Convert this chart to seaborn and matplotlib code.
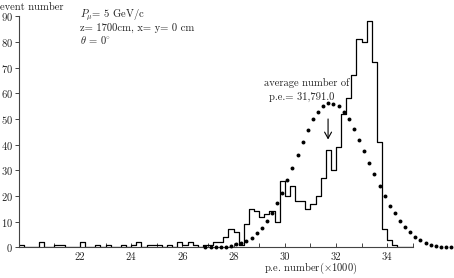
import numpy as np
import pandas as pd
import matplotlib
matplotlib.use("Agg")
import matplotlib.pyplot as plt
import matplotlib.transforms as mtransforms
import seaborn as sns

# ---------------- data ----------------
hist_bins = [19.6, 20.4, 21.0, 21.2, 22.0, 22.6, 23.0, 23.6, 24.0, 24.2,
             24.6, 24.8, 25.0, 25.4, 25.8, 26.0, 26.2, 26.4, 26.8, 27.0,
             27.2, 27.4, 27.6, 27.8, 28.0, 28.2, 28.4, 28.6, 28.8, 29.0,
             29.2, 29.4, 29.6, 29.8, 30.0, 30.2, 30.4, 30.6, 30.8, 31.0,
             31.2, 31.4, 31.6, 31.8, 32.0, 32.2, 32.4, 32.6, 32.8, 33.0,
             33.2, 33.4, 33.6, 33.8, 34.0, 34.2]
hist_counts = [1, 2, 1, 1, 2, 1, 1, 1, 1, 2,
               1, 1, 1, 1, 2, 1, 2, 1, 1, 1,
               2, 2, 4, 7, 6, 1, 9, 15, 14, 12,
               13, 14, 10, 26, 20, 24, 18, 18, 15, 17,
               20, 27, 38, 30, 39, 52, 58, 67, 81, 80,
               88, 72, 41, 7, 3, 1]

dot_x = [26.9, 27.1, 27.3, 27.5, 27.7, 27.9, 28.1, 28.3, 28.5, 28.7,
         28.9, 29.1, 29.3, 29.5, 29.7, 29.9, 30.1, 30.3, 30.5, 30.7,
         30.9, 31.1, 31.3, 31.5, 31.7, 31.9, 32.1, 32.3, 32.5, 32.7,
         32.9, 33.1, 33.3, 33.5, 33.7, 33.9, 34.1, 34.3, 34.5, 34.7,
         34.9, 35.1, 35.3, 35.5, 35.7, 35.9, 36.1, 36.3, 36.5]
dot_y = [0.0, 0.0, 0.0, 0.1, 0.3, 0.6, 1.1, 1.6, 2.4, 3.7,
         5.4, 7.4, 10.3, 13.5, 17.1, 21.3, 26.2, 31.0, 36.1, 41.1,
         45.8, 49.8, 52.8, 55.1, 56.1, 56.0, 55.0, 52.8, 49.8, 46.2,
         41.8, 37.5, 32.9, 28.4, 24.0, 20.0, 16.2, 13.2, 10.4, 8.0,
         6.1, 4.1, 2.8, 1.8, 0.9, 0.5, 0.2, 0.0, 0.0]

x_major = [22, 24, 26, 28, 30, 32, 34]
x_minor = [21, 23, 25, 27, 29, 31, 33, 35]
y_ticks = [0, 10, 20, 30, 40, 50, 60, 70, 80, 90]

bin_width = 0.2
edges = np.round(np.arange(19.6, 35.0 + 1e-9, bin_width), 1)

# per-bin heights on the full bin grid, built from the read values
heights = np.zeros(len(edges) - 1)
for b, c in zip(hist_bins, hist_counts):
    heights[int(round((b - edges[0]) / bin_width))] = c
step_df = pd.DataFrame({"edge": edges,
                        "count": np.append(heights, heights[-1])})

# ---------------- style ----------------
sns.set_style("ticks")
plt.rcParams["font.family"] = ["cmr10", "DejaVu Serif"]
plt.rcParams["mathtext.fontset"] = "cm"
plt.rcParams["axes.formatter.use_mathtext"] = True
plt.rcParams["axes.unicode_minus"] = False

TXT = "#222222"
fs = 7.6

W, H = 454, 278
x_lo, x_hi = 19.6, 36.6
px_per_unit = 25.6
ax_left = 80 - (22 - x_lo) * px_per_unit
ax_width = (x_hi - x_lo) * px_per_unit

fig = plt.figure(figsize=(W / 100, H / 100), dpi=100)
ax = fig.add_axes([ax_left / W, 30.7 / H, ax_width / W, 231 / H])

sns.lineplot(data=step_df, x="edge", y="count", drawstyle="steps-post",
             color="black", linewidth=0.9, ax=ax, estimator=None)
sns.scatterplot(x=dot_x, y=dot_y, color="black", s=8, linewidth=0,
                clip_on=False, ax=ax, zorder=5)

ax.set_xlim(x_lo, x_hi)
ax.set_ylim(0, 90)
ax.set_xlabel("")
ax.set_ylabel("")

for s in ["top", "right"]:
    ax.spines[s].set_visible(False)
ax.spines["bottom"].set_bounds(x_lo, 35.0)
for s in ["bottom", "left"]:
    ax.spines[s].set_color("#444444")
    ax.spines[s].set_linewidth(0.8)

ax.set_xticks(x_major)
ax.set_xticklabels([str(v) for v in x_major])
ax.set_xticks(x_minor, minor=True)
ax.set_yticks(y_ticks)
ax.tick_params(axis="x", which="both", direction="in", length=3.0,
               width=0.7, color="#444444", pad=3.5, labelsize=fs,
               labelcolor=TXT)
ax.tick_params(axis="y", which="both", direction="out", length=3.0,
               width=0.7, color="#444444", pad=1.0, labelsize=fs,
               labelcolor=TXT)

# x label (placed under the axis, as in the reference)
trans = mtransforms.blended_transform_factory(ax.transData, fig.transFigure)
ax.text(31.0, 1 - 268 / H, r"p.e. number($\times$1000)", transform=trans,
        ha="center", va="center", fontsize=fs, color=TXT)

# y label at the top-left
fig.text(0.0, 1 - 7 / H, "event number", ha="left", va="center",
         fontsize=fs, color=TXT)

# run conditions
fig.text(80 / W, 1 - 16 / H, r"$P_\mu$= 5 GeV/c", ha="left",
         va="center", fontsize=fs, color=TXT)
fig.text(80 / W, 1 - 28 / H, "z= 1700cm, x= y= 0 cm", ha="left",
         va="center", fontsize=fs, color=TXT)
fig.text(80 / W, 1 - 40 / H, r"$\theta$ = 0$^{\circ}$", ha="left",
         va="center", fontsize=fs, color=TXT)

# average annotation
fig.text(264 / W, 1 - 83 / H, "average number of", ha="left",
         va="center", fontsize=fs, color=TXT)
fig.text(269 / W, 1 - 97 / H, "p.e.= 31,791.0", ha="left",
         va="center", fontsize=fs, color=TXT)
ax.annotate("", xy=(31.69, 42.0), xytext=(31.69, 50.0),
            arrowprops=dict(arrowstyle="->,head_length=0.45,head_width=0.25",
                            color="black", lw=0.8, shrinkA=0, shrinkB=0))

fig.savefig("out.png", dpi=100)
